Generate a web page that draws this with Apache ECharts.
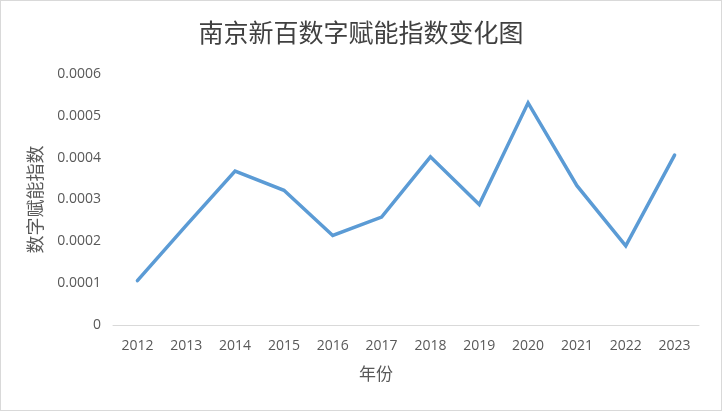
<!DOCTYPE html>
<html>
<head>
<meta charset="utf-8">
<script src="https://cdn.jsdelivr.net/npm/echarts@6/dist/echarts.min.js"></script>
<style>
html,body{margin:0;padding:0;background:#fff;}
#c{width:720px;height:409px;border:1px solid #d9d9d9;}
</style>
</head>
<body>
<div id="c"></div>
<script>
const titleText = '南京新百数字赋能指数变化图';
const xName = '年份';
const yName = '数字赋能指数';
const years = ['2012','2013','2014','2015','2016','2017','2018','2019','2020','2021','2022','2023'];
const values = [0.000106, 0.000238, 0.000368, 0.000322, 0.000214, 0.000258, 0.000402, 0.000288, 0.000531, 0.000333, 0.000189, 0.000406];

const chart = echarts.init(document.getElementById('c'));
chart.setOption({
  animation: false,
  title: {
    text: titleText,
    left: 'center',
    top: 14,
    textStyle: {fontFamily: 'Noto Sans CJK SC', fontSize: 25, fontWeight: 'normal', color: '#404040'}
  },
  grid: {left: 112, right: 22, top: 73, bottom: 85},
  xAxis: {
    type: 'category',
    data: years,
    boundaryGap: true,
    name: xName,
    nameLocation: 'middle',
    nameGap: 40,
    nameTextStyle: {fontFamily: 'Noto Sans CJK SC', fontSize: 17, color: '#595959', padding: [0, 60, 0, 0]},
    axisLine: {lineStyle: {color: '#d9d9d9', width: 1}},
    axisTick: {show: false},
    axisLabel: {fontFamily: 'Open Sans', fontSize: 14, color: '#595959', margin: 14}
  },
  yAxis: {
    type: 'value',
    min: 0,
    max: 0.0006,
    interval: 0.0001,
    name: yName,
    nameLocation: 'middle',
    nameGap: 69,
    nameTextStyle: {fontFamily: 'Noto Sans CJK SC', fontSize: 18, color: '#595959'},
    axisLine: {show: false},
    axisTick: {show: false},
    splitLine: {show: false},
    axisLabel: {
      fontFamily: 'Open Sans', fontSize: 14, color: '#595959', margin: 12,
      formatter: v => v === 0 ? '0' : v.toFixed(4)
    }
  },
  series: [{
    type: 'line',
    data: values,
    symbol: 'none',
    lineStyle: {color: '#5B9BD5', width: 3.5, cap: 'round', join: 'miter'}
  }]
});
</script>
</body>
</html>
